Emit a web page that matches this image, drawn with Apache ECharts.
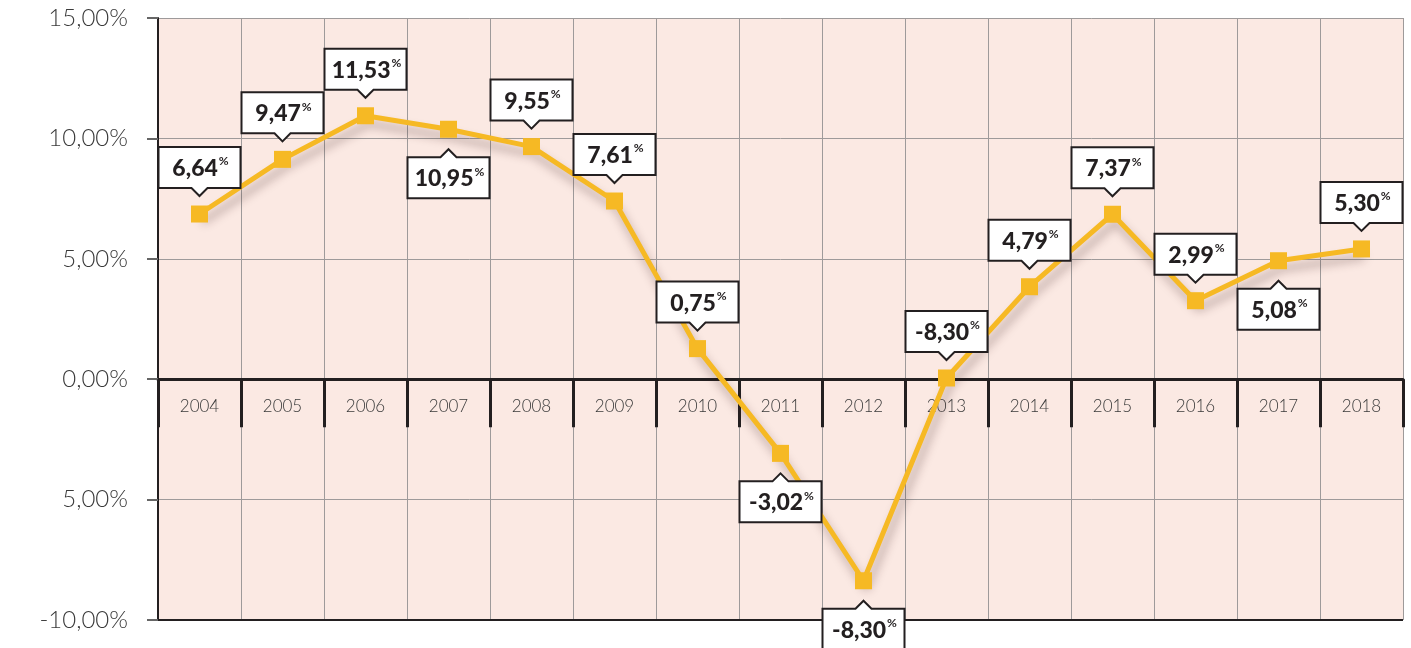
<!DOCTYPE html>
<html>
<head>
<meta charset="utf-8">
<script src="https://cdn.jsdelivr.net/npm/echarts@6/dist/echarts.min.js"></script>
<style>
html,body{margin:0;padding:0;background:#fff;}
#c{width:1411px;height:648px;}
</style>
</head>
<body>
<div id="c"></div>
<script>
const categories = ['2004','2005','2006','2007','2008','2009','2010','2011','2012','2013','2014','2015','2016','2017','2018'];
const values = [6.86, 9.13, 10.94, 10.38, 9.66, 7.40, 1.27, -3.08, -8.37, 0.05, 3.84, 6.85, 3.26, 4.92, 5.41];
const labelTexts = ['6,64','9,47','11,53','10,95','9,55','7,61','0,75','-3,02','-8,30','-8,30','4,79','7,37','2,99','5,08','5,30'];
const labelSides = ['up','up','up','down','up','up','up','down','down','up','up','up','up','down','up'];
const yTickLabels = {'-10':'-10,00%','-5':'5,00%','0':'0,00%','5':'5,00%','10':'10,00%','15':'15,00%'};
const yMin = -10;

const dark = '#231f20';
const gold = '#f6b924';
const grid = '#9e9a9a';

function renderCallout(params, api) {
  const i = params.dataIndex;
  const p = api.coord([api.value(0), api.value(1)]);
  const up = labelSides[i] === 'up';
  const w = 82, h = 41, pw = 8;
  const cx = p[0];
  let top, bottom, pts;
  if (up) {
    bottom = p[1] - 26; top = bottom - h;
    const tip = p[1] - 18;
    pts = [[cx-w/2,top],[cx+w/2,top],[cx+w/2,bottom],[cx+pw,bottom],[cx,tip],[cx-pw,bottom],[cx-w/2,bottom]];
  } else {
    top = p[1] + 28; bottom = top + h;
    const tip = p[1] + 20;
    pts = [[cx-w/2,top],[cx-pw,top],[cx,tip],[cx+pw,top],[cx+w/2,top],[cx+w/2,bottom],[cx-w/2,bottom]];
  }
  return {
    type: 'group',
    children: [
      {type:'polygon', shape:{points:pts}, style:{fill:'#ffffff', stroke:dark, lineWidth:2}},
      {type:'text', style:{
        text: '{v|' + labelTexts[i] + '}{p|%}',
        x: cx + 1, y: (top + bottom) / 2 + 1,
        align: 'center', verticalAlign: 'middle',
        rich: {
          v: {fontFamily:'Lato', fontWeight:'900', fontSize:23, fill:dark, lineHeight:26},
          p: {fontFamily:'Lato', fontWeight:'bold', fontSize:12, fill:dark, verticalAlign:'top', lineHeight:26, padding:[0,0,12,1]}
        }
      }}
    ]
  };
}

function renderYear(params, api) {
  const i = params.dataIndex;
  const p = api.coord([api.value(0), 0]);
  return {
    type:'text',
    style:{text: categories[i], x: p[0], y: p[1] + 27, align:'center', verticalAlign:'middle',
      fontFamily:'Lato', fontWeight:300, fontSize:17, fill:'#3a3a3a'}
  };
}

const chart = echarts.init(document.getElementById('c'), null, {renderer:'canvas'});
chart.setOption({
  animation: false,
  backgroundColor: '#ffffff',
  grid: {left:158, right:8, top:18, bottom:28, show:true, backgroundColor:'#fbe9e3', borderWidth:0, containLabel:false, outerBoundsMode:'none'},
  xAxis: {
    type:'category', data:categories, boundaryGap:true,
    axisLine:{show:true, onZero:true, lineStyle:{color:dark, width:3}},
    axisTick:{show:true, length:48, lineStyle:{color:dark, width:3}},
    axisLabel:{show:false},
    splitLine:{show:true, lineStyle:{color:grid, width:1}}
  },
  yAxis: {
    type:'value', min:yMin, max:15, interval:5,
    axisLine:{show:true, lineStyle:{color:dark, width:2}},
    axisTick:{show:true, length:11, lineStyle:{color:'#666', width:2}},
    axisLabel:{color:'#3a3a3a', fontFamily:'Lato', fontWeight:300, fontSize:24, margin:30,
      formatter: v => yTickLabels[String(v)]},
    splitLine:{show:true, lineStyle:{color:grid, width:1}}
  },
  series: [{
    type:'custom',
    data: categories.map((c,i)=>[i]),
    encode:{x:0},
    renderItem: renderYear,
    clip:false, z:2, silent:true
  },{
    type:'line', data:values,
    symbol:'rect', symbolSize:17,
    itemStyle:{color:gold},
    lineStyle:{color:gold, width:5, shadowColor:'rgba(60,30,30,0.35)', shadowBlur:10, shadowOffsetX:3, shadowOffsetY:8},
    markLine:{silent:true, symbol:'none', label:{show:false}, lineStyle:{color:dark, width:2, type:'solid'},
      data:[{yAxis:yMin}]},
    z:3
  },{
    type:'custom',
    data: values.map((v,i)=>[i,v]),
    encode:{x:0,y:1},
    renderItem: renderCallout,
    clip:false, z:5, silent:true
  }]
});
</script>
</body>
</html>
